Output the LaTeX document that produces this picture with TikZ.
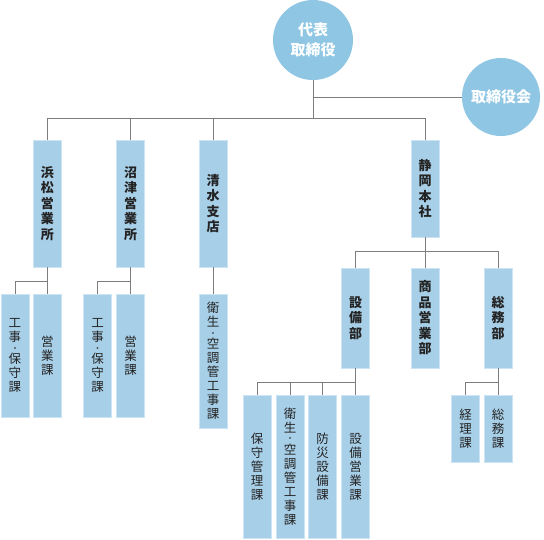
\documentclass[tikz,border=0pt]{standalone}
\usepackage{fontspec}
\newfontfamily\jp{Noto Sans CJK JP}
\usepackage{xcolor}
\usepackage{tikz}
\usetikzlibrary{positioning}
\definecolor{circleblue}{RGB}{142,198,228}
\definecolor{boxblue}{RGB}{168,207,232}
\definecolor{boxedge}{RGB}{204,228,243}
\definecolor{linegray}{RGB}{125,125,125}
\definecolor{textdark}{RGB}{35,35,35}
% small middle dot between stacked characters
\newcommand{\stackdot}{\\[-4.5pt]{\fontsize{8}{8}\selectfont ・}\\[-1.5pt]}

\begin{document}
\begin{tikzpicture}[
    x=1pt, y=-1pt,
    head/.style={circle, fill=circleblue, inner sep=0pt, text=white, align=center, font=\jp\bfseries\fontsize{15}{20}\selectfont},
    unit/.style={rectangle, draw=boxedge, line width=0.6pt, fill=boxblue, minimum width=28pt, inner sep=0pt, text=textdark, align=center},
    dept/.style={unit, font=\jp\bfseries\fontsize{13}{15.5}\selectfont},
    sect/.style={unit, font=\jp\fontsize{12.5}{14}\selectfont},
    conn/.style={linegray, line width=0.8pt}
]
\useasboundingbox (0,0) rectangle (544,539);

% Top
\node[head, minimum size=80pt] (ceo) at (313,40) {代表\\取締役};
\node[head, minimum size=78pt] (board) at (501,97) {取締役会};

% Branches and head office
\node[dept, minimum height=127pt] (hama) at (47.5,203.5) {浜\\松\\営\\業\\所};
\node[dept, minimum height=127pt] (numazu) at (130.5,203.5) {沼\\津\\営\\業\\所};
\node[dept, minimum height=127pt] (shimizu) at (213,203.5) {清\\水\\支\\店};
\node[dept, minimum height=97pt] (honsha) at (425,188.5) {静\\岡\\本\\社};

% Sections of the branches
\node[sect, minimum height=123pt] (hama-koji) at (15,355.5) {工\\事\stackdot 保\\守\\課};
\node[sect, minimum height=123pt] (hama-eigyo) at (47.5,355.5) {営\\業\\課};
\node[sect, minimum height=123pt] (numazu-koji) at (97.5,355.5) {工\\事\stackdot 保\\守\\課};
\node[sect, minimum height=123pt] (numazu-eigyo) at (130.5,355.5) {営\\業\\課};
\node[sect, minimum height=134pt] (shimizu-kucho) at (213,361) {衛\\生\stackdot 空\\調\\管\\工\\事\\課};

% Departments of the head office
\node[dept, minimum height=100pt] (setsubi) at (355.5,318) {設\\備\\部};
\node[dept, minimum height=100pt] (shohin) at (425,318) {商\\品\\営\\業\\部};
\node[dept, minimum height=100pt] (somu) at (498,318) {総\\務\\部};

% Sections of the departments
\node[sect, minimum height=143pt] (hoshu) at (257,466.5) {保\\守\\管\\理\\課};
\node[sect, minimum height=143pt] (eisei) at (290,466.5) {衛\\生\stackdot 空\\調\\管\\工\\事\\課};
\node[sect, minimum height=143pt] (bosai) at (322.5,466.5) {防\\災\\設\\備\\課};
\node[sect, minimum height=143pt] (seigyo) at (355.5,466.5) {設\\備\\営\\業\\課};
\node[sect, minimum height=67pt] (keiri) at (465.5,428.5) {経\\理\\課};
\node[sect, minimum height=67pt] (somuka) at (498,428.5) {総\\務\\課};

% Junctions
\coordinate (top-j) at (313,118);
\coordinate (hama-j) at (47.5,281);
\coordinate (numazu-j) at (130.5,281);
\coordinate (honsha-j) at (425,251);
\coordinate (setsubi-j) at (355.5,382);
\coordinate (somu-j) at (498,382);

% Connectors
\draw[conn] (ceo) -- (top-j);
\draw[conn] (board) -- (board -| ceo);
\draw[conn] (hama.north) |- (top-j);
\draw[conn] (honsha.north) |- (top-j);
\draw[conn] (numazu.north) -- (numazu.north |- top-j);
\draw[conn] (shimizu.north) -- (shimizu.north |- top-j);

\draw[conn] (hama) -- (hama-eigyo);
\draw[conn] (hama-koji.north) |- (hama-j);
\draw[conn] (numazu) -- (numazu-eigyo);
\draw[conn] (numazu-koji.north) |- (numazu-j);
\draw[conn] (shimizu) -- (shimizu-kucho);

\draw[conn] (honsha) -- (shohin);
\draw[conn] (setsubi.north) |- (honsha-j);
\draw[conn] (somu.north) |- (honsha-j);

\draw[conn] (setsubi) -- (seigyo);
\draw[conn] (hoshu.north) |- (setsubi-j);
\draw[conn] (eisei.north) -- (eisei.north |- setsubi-j);
\draw[conn] (bosai.north) -- (bosai.north |- setsubi-j);

\draw[conn] (somu) -- (somuka);
\draw[conn] (keiri.north) |- (somu-j);
\end{tikzpicture}
\end{document}
